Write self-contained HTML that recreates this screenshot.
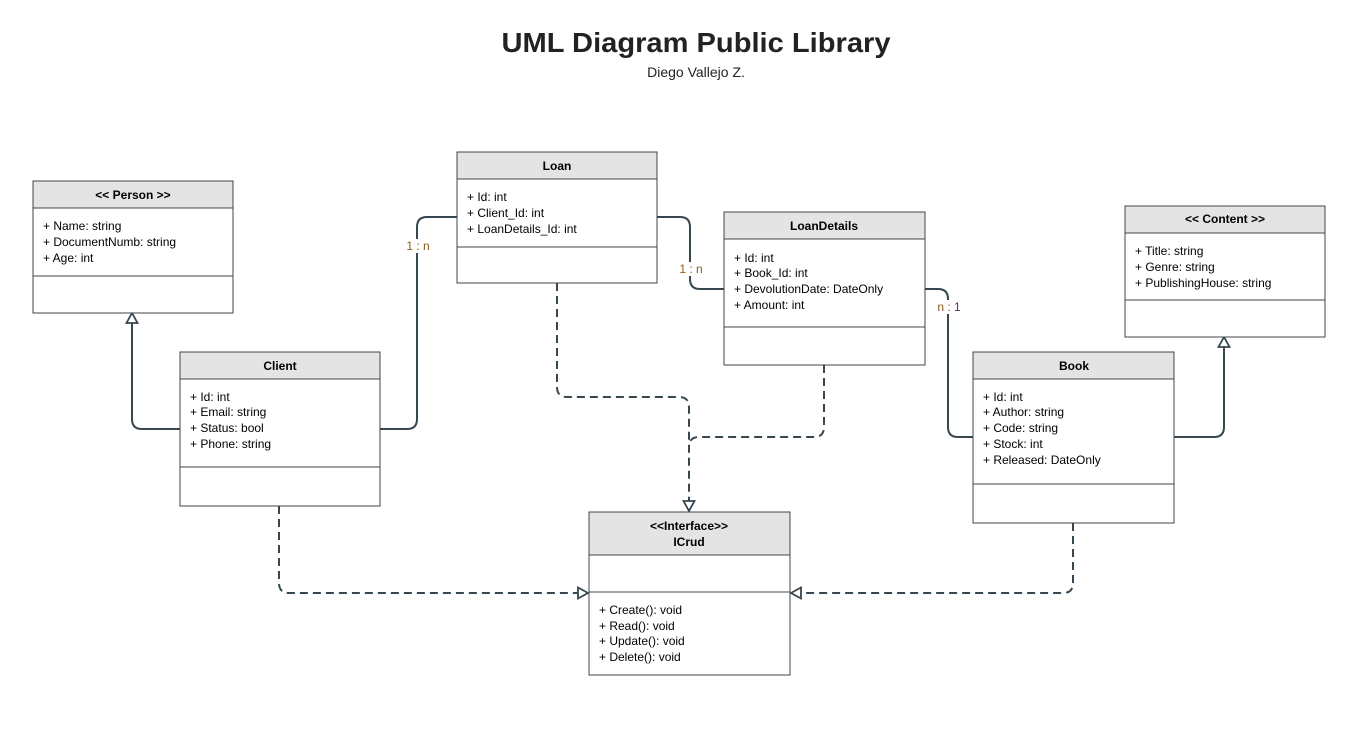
<!DOCTYPE html>
<html><head><meta charset="utf-8"><style>
html,body{margin:0;padding:0;background:#fff;}
svg{display:block;font-family:"Liberation Sans",Arial,sans-serif;}
.b{fill:#fff;stroke:#444;stroke-width:1;}
.h{fill:#e4e4e4;stroke:#444;stroke-width:1;}
.t{font-size:12px;fill:#000;}
.th{font-size:12px;font-weight:bold;fill:#000;text-anchor:middle;}
.c{fill:none;stroke:#36474f;stroke-width:2;}
.d{fill:none;stroke:#36474f;stroke-width:2;stroke-dasharray:8 5;}
.a{fill:#fff;stroke:#36474f;stroke-width:1.8;}
.l{font-size:12px;text-anchor:middle;}
</style></head><body>
<svg width="1367" height="743" viewBox="0 0 1367 743">
<text x="696" y="52" text-anchor="middle" font-size="28" font-weight="bold" fill="#222" textLength="389" lengthAdjust="spacingAndGlyphs">UML Diagram Public Library</text>
<text x="696" y="77" text-anchor="middle" font-size="14" fill="#222">Diego Vallejo Z.</text>

<path class="c" d="M180,429 H142 Q132,429 132,419 V322"/>
<path class="a" d="M132,313 L126.5,323 L137.5,323 Z"/>
<path class="c" d="M380,429 H407 Q417,429 417,419 V227 Q417,217 427,217 H457"/>
<rect x="405" y="239" width="26" height="14" fill="#fff"/>
<text class="l" x="418" y="250" fill="#8a5a20">1 : n</text>
<path class="c" d="M657,217 H680 Q690,217 690,227 V279 Q690,289 700,289 H724"/>
<rect x="677" y="262" width="26" height="14" fill="#fff"/>
<text class="l" x="691" y="273" fill="#8a5a20">1 : n</text>
<path class="c" d="M925,289 H938 Q948,289 948,299 V427 Q948,437 958,437 H973"/>
<rect x="935" y="300" width="28" height="14" fill="#fff"/>
<text class="l" x="949" y="311" fill="#8a5a20">n : <tspan fill="#6a2a6a">1</tspan></text>
<path class="c" d="M1174,437 H1214 Q1224,437 1224,427 V346"/>
<path class="a" d="M1224,337 L1218.5,347 L1229.5,347 Z"/>

<path class="d" d="M557,283 V387 Q557,397 567,397 H679 Q689,397 689,407 V501"/>
<path class="d" d="M824,365 V427 Q824,437 814,437 H699 Q689,437 689,447"/>
<path class="a" d="M689,511 L683.5,501 L694.5,501 Z"/>
<path class="d" d="M279,506 V583 Q279,593 289,593 H578"/>
<path class="a" d="M588,593 L578,587.5 L578,598.5 Z"/>
<path class="d" d="M1073,523 V583 Q1073,593 1063,593 H801"/>
<path class="a" d="M791,593 L801,587.5 L801,598.5 Z"/>

<rect class="b" x="33" y="181" width="200" height="132"/>
<rect class="h" x="33" y="181" width="200" height="27"/>
<line x1="33" y1="276" x2="233" y2="276" stroke="#444"/>
<text class="th" x="133" y="199">&lt;&lt; Person &gt;&gt;</text>
<text class="t" x="43" y="230">+ Name: string</text>
<text class="t" x="43" y="246">+ DocumentNumb: string</text>
<text class="t" x="43" y="262">+ Age: int</text>

<rect class="b" x="457" y="152" width="200" height="131"/>
<rect class="h" x="457" y="152" width="200" height="27"/>
<line x1="457" y1="247" x2="657" y2="247" stroke="#444"/>
<text class="th" x="557" y="170">Loan</text>
<text class="t" x="467" y="201">+ Id: int</text>
<text class="t" x="467" y="217">+ Client_Id: int</text>
<text class="t" x="467" y="233">+ LoanDetails_Id: int</text>

<rect class="b" x="724" y="212" width="201" height="153"/>
<rect class="h" x="724" y="212" width="201" height="27"/>
<line x1="724" y1="327" x2="925" y2="327" stroke="#444"/>
<text class="th" x="824" y="230">LoanDetails</text>
<text class="t" x="734" y="262">+ Id: int</text>
<text class="t" x="734" y="277">+ Book_Id: int</text>
<text class="t" x="734" y="293">+ DevolutionDate: DateOnly</text>
<text class="t" x="734" y="309">+ Amount: int</text>

<rect class="b" x="1125" y="206" width="200" height="131"/>
<rect class="h" x="1125" y="206" width="200" height="27"/>
<line x1="1125" y1="300" x2="1325" y2="300" stroke="#444"/>
<text class="th" x="1225" y="223">&lt;&lt; Content &gt;&gt;</text>
<text class="t" x="1135" y="255">+ Title: string</text>
<text class="t" x="1135" y="271">+ Genre: string</text>
<text class="t" x="1135" y="287">+ PublishingHouse: string</text>

<rect class="b" x="180" y="352" width="200" height="154"/>
<rect class="h" x="180" y="352" width="200" height="27"/>
<line x1="180" y1="467" x2="380" y2="467" stroke="#444"/>
<text class="th" x="280" y="370">Client</text>
<text class="t" x="190" y="401">+ Id: int</text>
<text class="t" x="190" y="416">+ Email: string</text>
<text class="t" x="190" y="432">+ Status: bool</text>
<text class="t" x="190" y="448">+ Phone: string</text>

<rect class="b" x="973" y="352" width="201" height="171"/>
<rect class="h" x="973" y="352" width="201" height="27"/>
<line x1="973" y1="484" x2="1174" y2="484" stroke="#444"/>
<text class="th" x="1074" y="370">Book</text>
<text class="t" x="983" y="401">+ Id: int</text>
<text class="t" x="983" y="416">+ Author: string</text>
<text class="t" x="983" y="432">+ Code: string</text>
<text class="t" x="983" y="448">+ Stock: int</text>
<text class="t" x="983" y="464">+ Released: DateOnly</text>

<rect class="b" x="589" y="512" width="201" height="163"/>
<rect class="h" x="589" y="512" width="201" height="43"/>
<line x1="589" y1="592" x2="790" y2="592" stroke="#444"/>
<text class="th" x="689" y="530">&lt;&lt;Interface&gt;&gt;</text>
<text class="th" x="689" y="546">ICrud</text>
<text class="t" x="599" y="614">+ Create(): void</text>
<text class="t" x="599" y="630">+ Read(): void</text>
<text class="t" x="599" y="645">+ Update(): void</text>
<text class="t" x="599" y="661">+ Delete(): void</text>
</svg>
</body></html>
